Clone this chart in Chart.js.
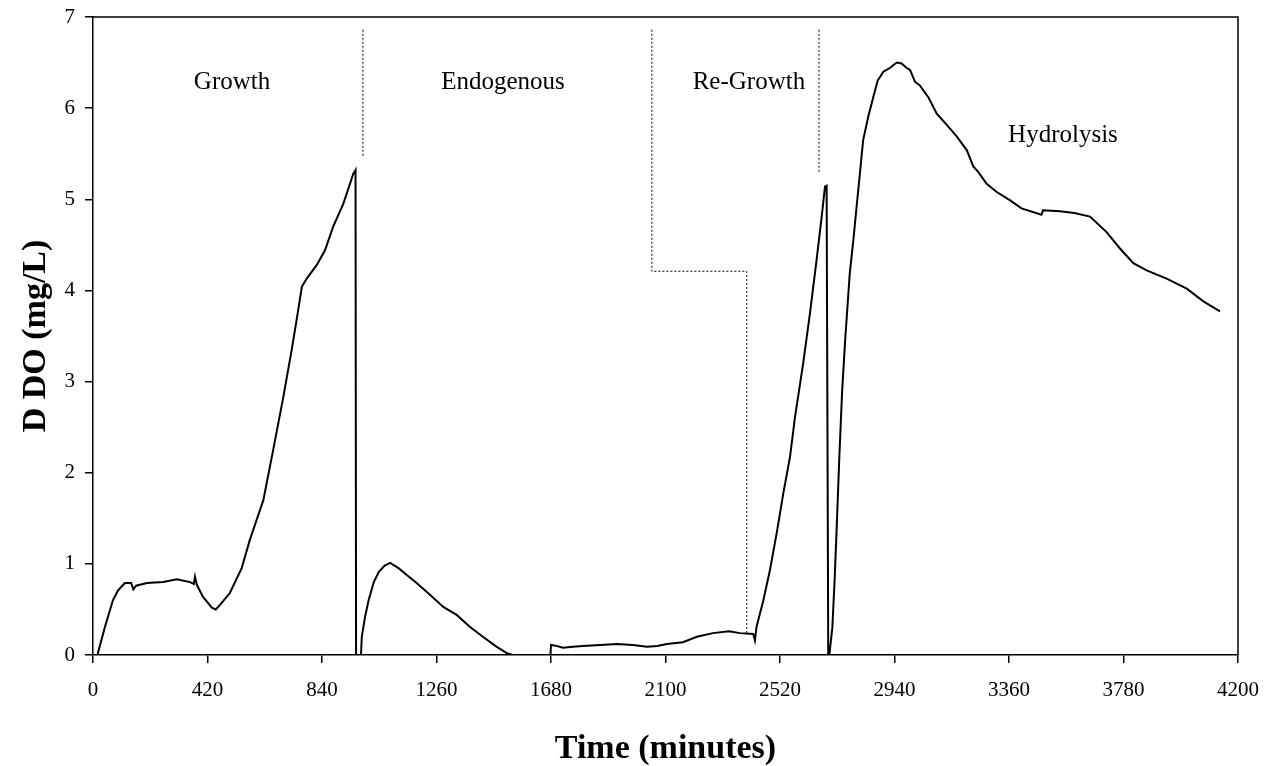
<!DOCTYPE html>
<html>
<head>
<meta charset="utf-8">
<script src="https://cdn.jsdelivr.net/npm/chart.js@4.4.0/dist/chart.umd.min.js"></script>
<style>
  html, body { margin: 0; padding: 0; background: #fff; }
  #wrap { width: 1275px; height: 766px; }
</style>
</head>
<body>
<div id="wrap"><canvas id="myChart" width="1275" height="766"></canvas></div>
<script>
// tiempo (min) y delta OD (mg/L)
const timeMin = [
  15, 18, 44, 73, 92, 117, 140, 148, 158, 198, 257, 308, 356, 370, 374, 381, 403, 436, 450, 466, 502,
  545, 575, 625, 661, 698, 729, 753, 766, 784, 821, 851, 881, 918, 955, 963,
  965, 983,
  986, 998, 1011, 1030, 1048, 1070, 1090, 1122, 1150, 1187, 1236, 1284, 1300, 1334, 1382, 1430, 1481, 1518, 1540, 1678,
  1680, 1700, 1724, 1760, 1797, 1860, 1922, 1981, 2032, 2070, 2105, 2164, 2215, 2274, 2333, 2373, 2422, 2428,
  2434, 2459, 2483, 2508, 2532, 2557, 2575, 2605, 2630, 2654, 2673, 2685, 2691,
  2697, 2701,
  2712, 2720, 2728, 2738, 2748, 2760, 2776, 2789, 2801, 2813, 2825, 2844, 2862, 2878, 2899, 2923, 2948, 2966,
  2985, 2997, 3015, 3033, 3064, 3095, 3131, 3168, 3205, 3229, 3247, 3278, 3315, 3363, 3406, 3479, 3485, 3547,
  3600, 3657, 3718, 3767, 3816, 3865, 3938, 4012, 4073, 4134
];
const deltaDO = [
  0, 0.02, 0.31, 0.60, 0.71, 0.79, 0.79, 0.72, 0.76, 0.79, 0.80, 0.83, 0.80, 0.78, 0.86, 0.77, 0.64, 0.52, 0.50, 0.55, 0.68,
  0.95, 1.26, 1.70, 2.25, 2.83, 3.35, 3.79, 4.04, 4.13, 4.28, 4.44, 4.70, 4.95, 5.28, 5.32,
  0, 0,
  0.20, 0.42, 0.60, 0.80, 0.91, 0.98, 1.01, 0.95, 0.88, 0.79, 0.66, 0.53, 0.50, 0.44, 0.31, 0.20, 0.09, 0.02, 0, 0,
  0.11, 0.10, 0.08, 0.09, 0.10, 0.11, 0.12, 0.11, 0.09, 0.10, 0.12, 0.14, 0.20, 0.24, 0.26, 0.24, 0.23, 0.16,
  0.31, 0.60, 0.93, 1.34, 1.77, 2.18, 2.61, 3.20, 3.75, 4.33, 4.81, 5.14, 5.15,
  0, 0,
  0.30, 0.80, 1.40, 2.20, 2.90, 3.50, 4.19, 4.55, 4.92, 5.28, 5.65, 5.91, 6.12, 6.30, 6.40, 6.44, 6.50, 6.49,
  6.44, 6.42, 6.29, 6.25, 6.12, 5.94, 5.82, 5.69, 5.54, 5.36, 5.30, 5.17, 5.08, 4.99, 4.90, 4.83, 4.88, 4.87,
  4.85, 4.81, 4.64, 4.46, 4.30, 4.22, 4.13, 4.02, 3.88, 3.77
];

// lineas punteadas que separan las fases
const div1X = [990, 990];
const div1Y = [6.86, 5.47];
const div2X = [2050, 2050, 2398, 2398];
const div2Y = [6.86, 4.21, 4.21, 0.24];
const div3X = [2663, 2663];
const div3Y = [6.86, 5.28];

// nombres de las fases
const phaseNames = ['Growth', 'Endogenous', 'Re-Growth', 'Hydrolysis'];
const phaseAt = [[510, 6.28], [1504, 6.28], [2406, 6.28], [3558, 5.7]];

const xTicks = [0, 420, 840, 1260, 1680, 2100, 2520, 2940, 3360, 3780, 4200];
const yTicks = [0, 1, 2, 3, 4, 5, 6, 7];

const toPts = (xs, ys) => xs.map((x, i) => ({ x: x, y: ys[i] }));

const dotted = {
  borderColor: '#000',
  borderWidth: 1,
  borderDash: [2, 2],
  pointRadius: 0,
  showLine: true,
  fill: false
};

const extrasPlugin = {
  id: 'extras',
  afterDatasetsDraw(chart) {
    const { ctx, chartArea: a, scales: { x, y } } = chart;
    ctx.save();
    ctx.strokeStyle = '#000';
    ctx.lineWidth = 1.5;
    ctx.beginPath();
    ctx.moveTo(a.left, a.top);
    ctx.lineTo(a.right, a.top);
    ctx.lineTo(a.right, a.bottom);
    ctx.stroke();
    ctx.fillStyle = '#000';
    ctx.font = '25px "Liberation Serif"';
    ctx.textAlign = 'center';
    ctx.textBaseline = 'middle';
    phaseNames.forEach((n, i) => {
      ctx.fillText(n, x.getPixelForValue(phaseAt[i][0]), y.getPixelForValue(phaseAt[i][1]));
    });
    ctx.restore();
  }
};

const ctx = document.getElementById('myChart').getContext('2d');
new Chart(ctx, {
  type: 'scatter',
  data: {
    datasets: [
      {
        label: 'DDO',
        data: toPts(timeMin, deltaDO),
        borderColor: '#000',
        borderWidth: 2,
        pointRadius: 0,
        showLine: true,
        tension: 0,
        fill: false
      },
      Object.assign({ data: toPts(div1X, div1Y) }, dotted),
      Object.assign({ data: toPts(div2X, div2Y) }, dotted),
      Object.assign({ data: toPts(div3X, div3Y) }, dotted)
    ]
  },
  options: {
    responsive: false,
    animation: false,
    devicePixelRatio: 1,
    layout: { padding: { top: 17, right: 37, left: 0, bottom: 0 } },
    plugins: { legend: { display: false }, tooltip: { enabled: false } },
    scales: {
      x: {
        type: 'linear',
        min: 0,
        max: 4200,
        afterBuildTicks: s => { s.ticks = xTicks.map(v => ({ value: v })); },
        afterFit: s => { s.height = 111; s.paddingLeft = 0; s.paddingRight = 0; },
        ticks: {
          color: '#000',
          padding: 15,
          maxRotation: 0,
          callback: v => String(v),
          font: { family: 'Liberation Serif', size: 21 }
        },
        grid: {
          drawOnChartArea: false,
          color: '#000',
          lineWidth: 1.5,
          tickLength: 8
        },
        border: { color: '#000', width: 1.5 },
        title: {
          display: true,
          text: 'Time (minutes)',
          color: '#000',
          font: { family: 'Liberation Serif', size: 34, weight: 'bold', lineHeight: 1 },
          padding: { top: 0, bottom: 0 }
        }
      },
      y: {
        min: 0,
        max: 7,
        afterBuildTicks: s => { s.ticks = yTicks.map(v => ({ value: v })); },
        afterFit: s => { s.width = 93; s.paddingTop = 0; s.paddingBottom = 0; },
        ticks: {
          color: '#000',
          padding: 10,
          callback: v => String(v),
          font: { family: 'Liberation Serif', size: 21 }
        },
        grid: {
          drawOnChartArea: false,
          color: '#000',
          lineWidth: 1.5,
          tickLength: 8
        },
        border: { color: '#000', width: 1.5 },
        title: {
          display: true,
          text: 'D DO (mg/L)',
          color: '#000',
          font: { family: 'Liberation Serif', size: 34, weight: 'bold', lineHeight: 1 },
          padding: { top: 19, bottom: 0 }
        }
      }
    }
  },
  plugins: [extrasPlugin]
});
</script>
</body>
</html>
